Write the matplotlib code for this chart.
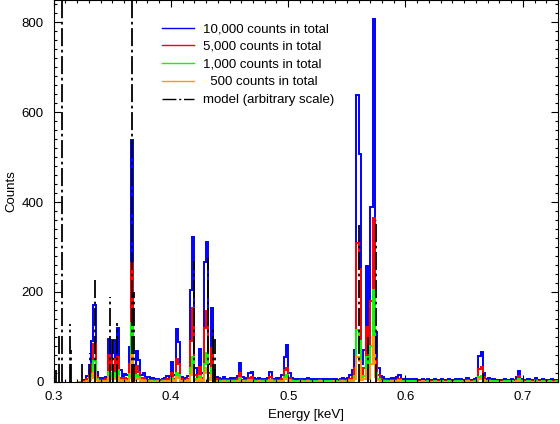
import numpy as np
import matplotlib
matplotlib.use('Agg')
import matplotlib.pyplot as plt
from matplotlib.ticker import MultipleLocator

plt.rcParams['font.family'] = ['Liberation Sans', 'DejaVu Sans']
plt.rcParams['font.size'] = 9.5

# histogram bins (keV)
bin_start = 0.320
bin_width = 0.002

# simulated spectra, one row = 0.02 keV
counts_10000 = [
    0, 0, 0, 3, 12, 37, 91, 171, 22, 8,
    8, 6, 10, 95, 45, 93, 40, 119, 25, 12,
    18, 15, 78, 538, 35, 68, 48, 15, 19, 8,
    10, 6, 8, 5, 7, 4, 6, 9, 12, 8,
    43, 15, 117, 88, 10, 6, 8, 12, 204, 323,
    30, 14, 73, 20, 266, 311, 40, 165, 25, 10,
    8, 6, 10, 5, 7, 9, 6, 8, 12, 41,
    10, 6, 8, 20, 22, 8, 6, 9, 5, 7,
    6, 8, 22, 7, 5, 9, 6, 14, 55, 82,
    20, 8, 5, 6, 4, 7, 5, 6, 9, 5,
    4, 6, 5, 7, 4, 5, 6, 4, 5, 6,
    5, 4, 6, 8, 6, 9, 15, 25, 70, 639,
    507, 40, 70, 258, 60, 390, 808, 110, 30, 12,
    10, 7, 6, 5, 8, 6, 10, 15, 6, 4,
    5, 3, 6, 4, 5, 3, 4, 6, 3, 5,
    4, 3, 5, 4, 3, 6, 4, 3, 5, 4,
    3, 5, 4, 6, 3, 4, 9, 4, 3, 5,
    8, 58, 66, 20, 6, 9, 4, 5, 3, 4,
    4, 3, 5, 4, 3, 6, 4, 10, 24, 6,
    4, 3, 5, 4, 3, 8, 4, 3, 5, 3,
    4, 3, 5, 3, 4,
]
counts_5000 = [
    0, 0, 0, 1, 5, 15, 40, 85, 10, 4,
    4, 3, 5, 60, 25, 50, 22, 55, 8, 5,
    8, 6, 40, 265, 18, 35, 22, 8, 9, 4,
    4, 3, 3, 2, 3, 2, 3, 4, 5, 3,
    20, 6, 50, 40, 5, 3, 4, 6, 90, 164,
    14, 6, 32, 9, 120, 157, 20, 75, 12, 5,
    3, 2, 4, 2, 3, 4, 2, 3, 5, 20,
    4, 2, 3, 9, 10, 3, 2, 4, 2, 3,
    2, 3, 10, 3, 2, 4, 3, 6, 25, 30,
    8, 3, 2, 2, 1, 3, 2, 2, 4, 2,
    2, 2, 2, 3, 1, 2, 2, 1, 2, 2,
    2, 2, 3, 3, 2, 4, 6, 10, 30, 309,
    250, 18, 30, 122, 28, 180, 365, 50, 14, 5,
    4, 3, 2, 2, 3, 2, 4, 6, 2, 2,
    2, 1, 2, 2, 2, 1, 2, 2, 1, 2,
    2, 1, 2, 1, 1, 2, 2, 1, 2, 1,
    1, 2, 2, 2, 1, 2, 4, 2, 1, 2,
    3, 28, 33, 10, 2, 4, 2, 2, 1, 2,
    2, 1, 2, 2, 1, 2, 2, 4, 12, 3,
    2, 1, 2, 1, 1, 3, 2, 1, 2, 1,
    2, 1, 2, 1, 2,
]
counts_1000 = [
    0, 0, 0, 0, 2, 6, 18, 45, 5, 2,
    2, 1, 2, 22, 10, 20, 10, 25, 3, 2,
    3, 2, 18, 130, 8, 15, 10, 3, 4, 2,
    1, 1, 2, 1, 1, 0, 1, 2, 2, 1,
    8, 3, 20, 16, 2, 1, 2, 3, 30, 55,
    6, 2, 12, 4, 40, 64, 8, 30, 5, 2,
    1, 1, 2, 0, 1, 2, 1, 1, 2, 8,
    2, 1, 1, 4, 4, 1, 1, 1, 0, 1,
    1, 1, 4, 1, 0, 2, 1, 2, 10, 15,
    3, 1, 0, 1, 0, 1, 1, 1, 2, 1,
    0, 1, 1, 1, 0, 1, 1, 0, 1, 1,
    1, 0, 1, 1, 1, 2, 3, 4, 12, 115,
    90, 8, 12, 55, 12, 80, 204, 20, 6, 2,
    1, 1, 1, 0, 1, 1, 2, 3, 1, 0,
    1, 0, 1, 0, 1, 0, 0, 1, 0, 1,
    0, 0, 1, 0, 0, 1, 0, 0, 1, 0,
    0, 1, 0, 1, 0, 0, 2, 0, 0, 1,
    1, 10, 12, 4, 1, 2, 0, 1, 0, 1,
    0, 0, 1, 1, 0, 1, 0, 2, 5, 1,
    0, 0, 1, 0, 0, 1, 0, 0, 1, 0,
    0, 1, 0, 0, 1,
]
counts_500 = [
    0, 0, 0, 0, 1, 3, 8, 20, 3, 1,
    1, 0, 1, 10, 5, 9, 5, 12, 2, 1,
    1, 1, 9, 60, 4, 8, 5, 2, 2, 1,
    0, 1, 0, 0, 1, 0, 0, 1, 1, 0,
    4, 1, 10, 8, 1, 0, 1, 1, 15, 28,
    3, 1, 6, 2, 20, 30, 4, 15, 2, 1,
    0, 0, 1, 0, 0, 1, 0, 0, 1, 4,
    1, 0, 0, 2, 2, 0, 0, 1, 0, 0,
    0, 0, 2, 0, 0, 1, 0, 1, 5, 7,
    1, 0, 0, 0, 0, 1, 0, 0, 1, 0,
    0, 0, 0, 1, 0, 0, 0, 0, 0, 1,
    0, 0, 0, 1, 0, 1, 1, 2, 6, 55,
    45, 4, 6, 25, 6, 40, 100, 10, 3, 1,
    0, 0, 0, 0, 1, 0, 1, 1, 0, 0,
    0, 0, 0, 0, 0, 0, 0, 1, 0, 0,
    0, 0, 0, 0, 0, 0, 0, 0, 0, 0,
    0, 0, 0, 0, 0, 0, 1, 0, 0, 0,
    0, 5, 6, 2, 0, 1, 0, 0, 0, 0,
    0, 0, 0, 0, 0, 0, 0, 1, 2, 0,
    0, 0, 0, 0, 0, 0, 0, 0, 0, 0,
    0, 0, 0, 0, 0,
]

# model lines (arbitrary scale)
model_energy = [0.3022, 0.3043, 0.3074, 0.3142, 0.3152, 0.3245, 0.3313, 0.3356,
                0.3484, 0.3507, 0.3540, 0.3668, 0.3685, 0.4197, 0.4313, 0.4362,
                0.4375, 0.5605, 0.5683, 0.5745, 0.6660]
model_height = [25, 104, 1000, 128, 70, 41, 63, 226,
                189, 93, 131, 1000, 200, 269, 275, 117,
                95, 349, 100, 360, 19]

edges = bin_start + bin_width * np.arange(len(counts_10000) + 1)

fig = plt.figure(figsize=(5.6, 4.24), dpi=100)
ax = fig.add_axes([0.0957, 0.0998, 0.9007, 0.9002])

ax.stairs(counts_10000, edges, color='#0000ff', lw=1.4, label='10,000 counts in total')
ax.stairs(counts_5000, edges, color='#ff0000', lw=1.4, label='5,000 counts in total')
ax.stairs(counts_1000, edges, color='#00ff00', lw=1.4, label='1,000 counts in total')
ax.stairs(counts_500, edges, color='#ff9900', lw=1.4, label='  500 counts in total')
ax.vlines(model_energy, 0, model_height, colors='black', lw=1.3,
          linestyles=(0, (10, 2, 1.5, 2)), label='model (arbitrary scale)')

ax.set_xlim(0.3, 0.73)
ax.set_ylim(0, 850)
ax.xaxis.set_major_locator(MultipleLocator(0.1))
ax.xaxis.set_minor_locator(MultipleLocator(0.01))
ax.yaxis.set_major_locator(MultipleLocator(200))
ax.yaxis.set_minor_locator(MultipleLocator(20))
ax.tick_params(which='both', direction='in', top=True, right=True, width=0.8)
ax.tick_params(which='major', length=5, pad=7)
ax.tick_params(which='minor', length=2.5)
for s in ax.spines.values():
    s.set_linewidth(0.8)

ax.set_xlabel('Energy [keV]', labelpad=4)
ax.set_ylabel('Counts', labelpad=3)

leg = ax.legend(loc='upper left', bbox_to_anchor=(0.215, 0.94), frameon=False,
                borderpad=0, borderaxespad=0, handlelength=2.4, handletextpad=0.7,
                labelspacing=0.42)
for h in leg.get_lines():
    h.set_linewidth(1.0)

fig.savefig('out.png', dpi=100)
